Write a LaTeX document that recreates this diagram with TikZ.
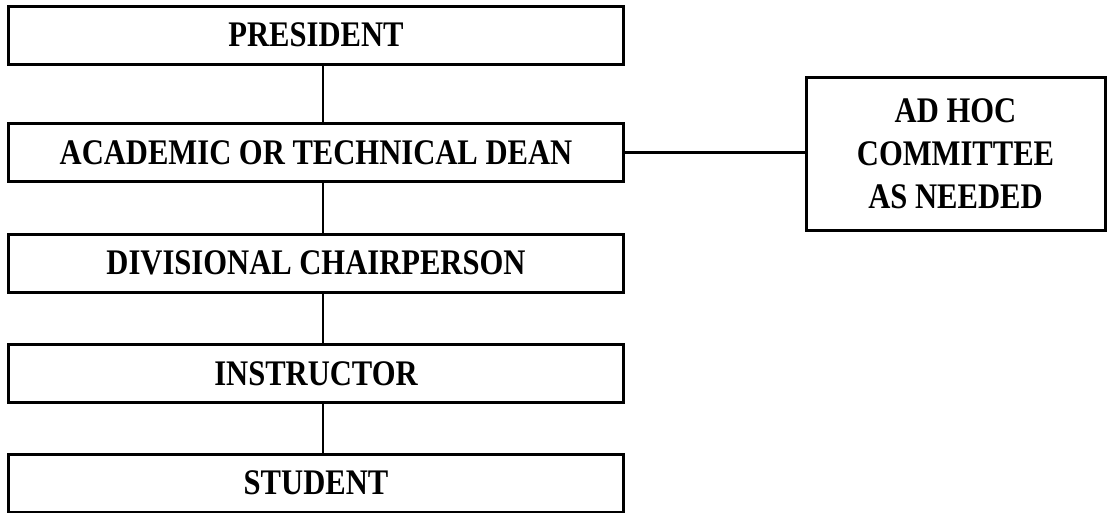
\documentclass[tikz,border=0pt]{standalone}
\usepackage{fontspec}
\setmainfont{Liberation Serif}[FakeStretch=0.85]
\usetikzlibrary{positioning}

\begin{document}
\begin{tikzpicture}[x=1pt,y=1pt,%
    node distance=110.5pt,on grid,
    font=\fontsize{36}{43}\selectfont\bfseries,
    rank/.style={draw,line width=3pt,minimum width=615pt,minimum height=58pt,inner sep=0pt},
    side/.style={draw,line width=3pt,minimum width=299pt,minimum height=153pt,align=center,inner sep=0pt},
    link/.style={line width=2.7pt}]
    \useasboundingbox (0,0) rectangle (1107,-512);
    \node[rank]  (pres)                         at (316,-35) {PRESIDENT};
    \node[rank]  (dean)  [below=117.5pt of pres]             {ACADEMIC OR TECHNICAL DEAN};
    \node[rank]  (chair) [below=of dean]                     {DIVISIONAL CHAIRPERSON};
    \node[rank]  (instr) [below=of chair]                    {INSTRUCTOR};
    \node[rank]  (stud)  [below=109.5pt of instr]            {STUDENT};
    \node[side]  (adhoc) [right=639.5pt of dean,yshift=-1pt] {AD HOC\\COMMITTEE\\AS NEEDED};

    \foreach \a/\b in {pres/dean,dean/chair,chair/instr,instr/stud}
        \draw[link] ([xshift=7pt]\a.south) -- ([xshift=7pt]\b.north);
    \draw[link] (dean.east) -- (dean.east -| adhoc.west);
\end{tikzpicture}
\end{document}
